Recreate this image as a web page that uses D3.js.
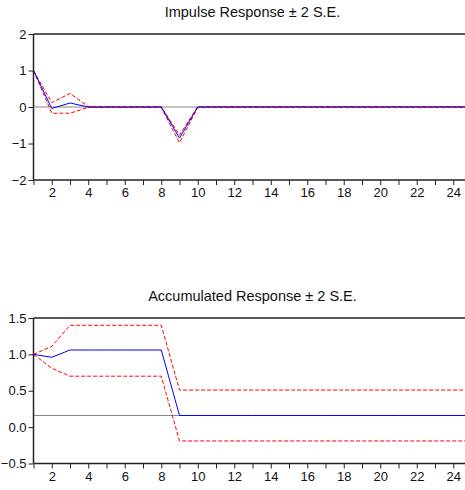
<!DOCTYPE html>
<html>
<head>
<meta charset="utf-8">
<script src="https://cdn.jsdelivr.net/npm/d3@7"></script>
<style>
  body { margin: 0; background: #fff; }
  svg { display: block; font-family: "Liberation Sans", Arial, sans-serif; }
</style>
</head>
<body>
<svg id="chart" width="465" height="490"></svg>
<script>
// periods 1..25 (the right end is cut off by the frame)
var periods = d3.range(1, 26);

// impulse response (top panel)
var impulse      = [1.0, -0.04, 0.11, 0, 0, 0, 0, 0, -0.85, 0, 0, 0, 0, 0, 0, 0, 0, 0, 0, 0, 0, 0, 0, 0, 0];
var impulseUpper = [1.0,  0.12, 0.37, 0.01, 0.01, 0.01, 0.01, 0.01, -0.77, 0.01, 0.01, 0.01, 0.01, 0.01, 0.01, 0.01, 0.01, 0.01, 0.01, 0.01, 0.01, 0.01, 0.01, 0.01, 0.01];
var impulseLower = [1.0, -0.17, -0.17, -0.01, -0.01, -0.01, -0.01, -0.01, -0.98, -0.01, -0.01, -0.01, -0.01, -0.01, -0.01, -0.01, -0.01, -0.01, -0.01, -0.01, -0.01, -0.01, -0.01, -0.01, -0.01];

// accumulated response (bottom panel)
var accum      = [1.0, 0.96, 1.06, 1.06, 1.06, 1.06, 1.06, 1.06, 0.16, 0.16, 0.16, 0.16, 0.16, 0.16, 0.16, 0.16, 0.16, 0.16, 0.16, 0.16, 0.16, 0.16, 0.16, 0.16, 0.16];
var accumUpper = [1.0, 1.11, 1.40, 1.40, 1.40, 1.40, 1.40, 1.40, 0.51, 0.51, 0.51, 0.51, 0.51, 0.51, 0.51, 0.51, 0.51, 0.51, 0.51, 0.51, 0.51, 0.51, 0.51, 0.51, 0.51];
var accumLower = [1.0, 0.81, 0.70, 0.70, 0.70, 0.70, 0.70, 0.70, -0.19, -0.19, -0.19, -0.19, -0.19, -0.19, -0.19, -0.19, -0.19, -0.19, -0.19, -0.19, -0.19, -0.19, -0.19, -0.19, -0.19];

var titles = ["Impulse Response \u00b1 2 S.E.", "Accumulated Response \u00b1 2 S.E."];
var xTickLabels = d3.range(2, 25, 2);
var topTicks = [-2, -1, 0, 1, 2];
var bottomTicks = [-0.5, 0.0, 0.5, 1.0, 1.5];

var svg = d3.select("#chart");

var x = d3.scaleLinear().domain([1, 25]).range([33.5, 471.5]);

function drawPanel(cfg) {
  var g = svg.append("g");
  var y = d3.scaleLinear().domain(cfg.domain).range([cfg.bottom, cfg.top]);

  // title
  g.append("text")
    .attr("x", (x.range()[0] + x.range()[1]) / 2)
    .attr("y", cfg.top - 17)
    .attr("text-anchor", "middle")
    .style("font-size", "14.5px")
    .style("fill", "#111")
    .text(cfg.title);

  // reference line
  g.append("line")
    .attr("x1", x(1)).attr("x2", 465)
    .attr("y1", y(cfg.ref)).attr("y2", y(cfg.ref))
    .attr("stroke", "#888").attr("stroke-width", 1);

  var line = d3.line()
    .x(function(d, i) { return x(periods[i]); })
    .y(function(d) { return y(d); });

  g.append("path").datum(cfg.upper)
    .attr("d", line).attr("fill", "none")
    .attr("stroke", "#ff0000").attr("stroke-width", 1)
    .attr("stroke-dasharray", "4,2");
  g.append("path").datum(cfg.lower)
    .attr("d", line).attr("fill", "none")
    .attr("stroke", "#ff0000").attr("stroke-width", 1)
    .attr("stroke-dasharray", "4,2");
  g.append("path").datum(cfg.values)
    .attr("d", line).attr("fill", "none")
    .attr("stroke", "#0000ff").attr("stroke-width", 1);

  // top border
  g.append("line")
    .attr("x1", x(1)).attr("x2", 465)
    .attr("y1", cfg.top).attr("y2", cfg.top)
    .attr("stroke", "#222").attr("stroke-width", 1.5);

  // x axis
  var xAxis = g.append("g")
    .attr("transform", "translate(0," + cfg.bottom + ")")
    .call(d3.axisBottom(x)
      .tickValues(d3.range(1, 25))
      .tickSize(5)
      .tickPadding(3)
      .tickFormat(function(d) { return xTickLabels.indexOf(d) >= 0 ? d : ""; }));
  xAxis.select(".domain").attr("d", "M" + x(1) + ",0H465").attr("stroke", "#222").attr("stroke-width", 1.5);

  // y axis
  var yAxis = g.append("g")
    .attr("transform", "translate(" + x(1) + ",0)")
    .call(d3.axisLeft(y)
      .tickValues(cfg.ticks)
      .tickSize(5)
      .tickPadding(2)
      .tickFormat(cfg.fmt));
  yAxis.select(".domain").attr("d", "M0," + cfg.top + "V" + cfg.bottom).attr("stroke", "#222").attr("stroke-width", 1.5);

  g.selectAll(".tick text").style("font-size", "13px").style("fill", "#111")
    .style("font-family", "'Liberation Sans', Arial, sans-serif");
  g.selectAll(".tick line").attr("stroke", "#222");
}

drawPanel({
  title: titles[0], top: 34, bottom: 180, domain: [-2, 2],
  ticks: topTicks, fmt: d3.format("d"), ref: 0,
  values: impulse, upper: impulseUpper, lower: impulseLower
});

drawPanel({
  title: titles[1], top: 318, bottom: 463.5, domain: [-0.5, 1.5],
  ticks: bottomTicks, fmt: d3.format(".1f"), ref: accum[accum.length - 1],
  values: accum, upper: accumUpper, lower: accumLower
});
</script>
</body>
</html>
